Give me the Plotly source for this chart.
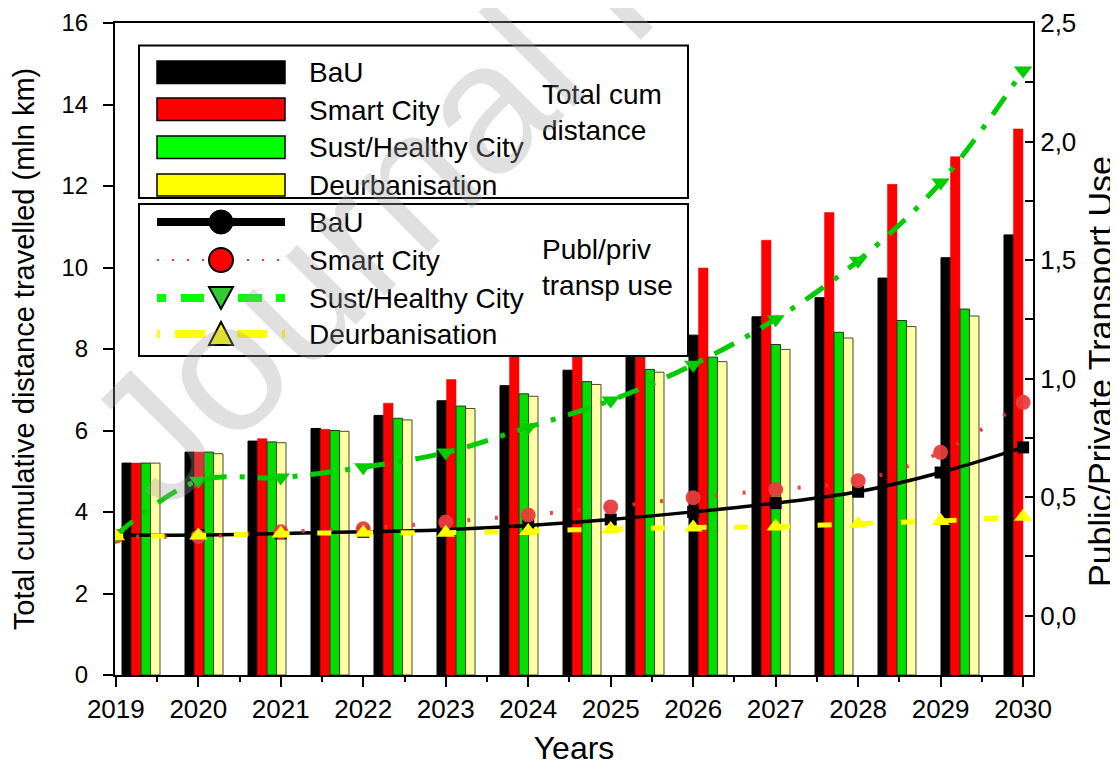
import plotly.graph_objects as go

# ---------------- data ----------------
bar_slots = list(range(15))
bau_dist = [5.20, 5.47, 5.74, 6.05, 6.37, 6.73, 7.10, 7.48, 7.90, 8.34, 8.79, 9.26, 9.74, 10.24, 10.80]
smart_dist = [5.20, 5.47, 5.80, 6.03, 6.67, 7.25, 7.92, 8.61, 9.30, 9.99, 10.67, 11.35, 12.04, 12.72, 13.40]
sust_dist = [5.20, 5.47, 5.72, 6.00, 6.30, 6.60, 6.90, 7.20, 7.50, 7.80, 8.11, 8.41, 8.70, 8.98, None]
deurb_dist = [5.20, 5.43, 5.70, 5.98, 6.26, 6.54, 6.84, 7.13, 7.43, 7.69, 7.99, 8.27, 8.55, 8.81, None]

years = list(range(2019, 2031))
bau_use = [0.340, 0.340, 0.347, 0.354, 0.363, 0.381, 0.406, 0.438, 0.475, 0.523, 0.604, 0.710]
smart_use = [0.335, 0.334, 0.354, 0.367, 0.395, 0.425, 0.459, 0.498, 0.532, 0.569, 0.689, 0.900]
sust_use = [0.340, 0.569, 0.583, 0.626, 0.688, 0.795, 0.908, 1.059, 1.251, 1.497, 1.827, 2.300]
deurb_use = [0.335, 0.338, 0.347, 0.350, 0.350, 0.357, 0.366, 0.372, 0.376, 0.388, 0.400, 0.417]

scenario_names = ["BaU", "Smart City", "Sust/Healthy City", "Deurbanisation"]
left_title = "Total cumulative distance travelled (mln km)"
right_title = "Public/Private Transport Use"
x_title = "Years"
box_notes = ["Total cum<br>distance", "Publ/priv<br>transp use"]

FONT = "Liberation Sans, Arial, sans-serif"

# page body has an 8px margin; figure is offset by that amount
OFF = 8
W, H = 1118 - OFF, 766 - OFF
# plot-area frame in viewport pixels
PL, PR, PT, PB = 115, 1033, 23, 675
def X(px):
    return (px - PL) / (PR - PL)
def Y(py):
    return (PB - py) / (PB - PT)

fig = go.Figure()

bar_styles = [
    dict(color="#000000", line=dict(color="#000000", width=1)),
    dict(color="#FF0000", line=dict(color="#FF0000", width=0.5)),
    dict(color="#00DD00", line=dict(color="#1a3a1a", width=1)),
    dict(color="#FFFFA6", line=dict(color="#4a4a2a", width=1)),
]
for name, vals, st in zip(scenario_names, [bau_dist, smart_dist, sust_dist, deurb_dist], bar_styles):
    fig.add_trace(go.Bar(x=bar_slots, y=vals, name=name, marker=st,
                         xaxis="x", yaxis="y", showlegend=False))

# lines on year axis / right axis
fig.add_trace(go.Scatter(x=years, y=bau_use, mode="lines+markers", name="BaU",
                         line=dict(color="black", width=3.5, shape="spline"),
                         marker=dict(symbol="square", size=12, color="black"),
                         xaxis="x2", yaxis="y2", showlegend=False))
fig.add_trace(go.Scatter(x=years, y=smart_use, mode="lines+markers", name="Smart City",
                         line=dict(color="rgba(235,50,50,0.9)", width=4, shape="spline",
                                   dash="0px,20px,3px,24.7px,3px,24.7px,3px,4.6px"),
                         marker=dict(symbol="circle", size=15, color="rgba(232,60,60,0.95)"),
                         xaxis="x2", yaxis="y2", showlegend=False))
fig.add_trace(go.Scatter(x=years, y=sust_use, mode="lines+markers", name="Sust/Healthy City",
                         line=dict(color="#00CC00", width=5, shape="spline",
                                   dash="22px,13px,5px,13px"),
                         marker=dict(symbol="triangle-down", size=16, color="#00CC00"),
                         xaxis="x2", yaxis="y2", showlegend=False))
fig.add_trace(go.Scatter(x=years, y=deurb_use, mode="lines+markers", name="Deurbanisation",
                         line=dict(color="#FFFF00", width=5, shape="spline",
                                   dash="7px,27.7px,7px,0px"),
                         marker=dict(symbol="triangle-up", size=16, color="#FFFF00"),
                         xaxis="x2", yaxis="y2", showlegend=False))

# ---------------- legend (drawn) ----------------
shapes = []
shapes.append(dict(type="rect", xref="paper", yref="paper", x0=X(139), x1=X(688), y0=Y(198), y1=Y(45.5),
                   line=dict(color="black", width=2), fillcolor="white", layer="above"))
shapes.append(dict(type="rect", xref="paper", yref="paper", x0=X(139), x1=X(688), y0=Y(356), y1=Y(204),
                   line=dict(color="black", width=2), fillcolor="white", layer="above"))
bar_fill = ["#000000", "#FF0000", "#00FF00", "#FFFF00"]
bar_rows = [(61, 83.5), (98, 120.5), (136, 158.5), (174, 196)]
for (ya, yb), col in zip(bar_rows, bar_fill):
    shapes.append(dict(type="rect", xref="paper", yref="paper", x0=X(157), x1=X(285), y0=Y(yb), y1=Y(ya),
                       line=dict(color="black", width=1.5), fillcolor=col, layer="above"))

line_rows = [222, 260, 298, 334]
# BaU
shapes.append(dict(type="line", xref="paper", yref="paper", x0=X(157), x1=X(285), y0=Y(222), y1=Y(222),
                   line=dict(color="black", width=8), layer="above"))
shapes.append(dict(type="circle", xref="paper", yref="paper", x0=X(209), x1=X(233), y0=Y(234), y1=Y(210),
                   line=dict(color="black", width=1), fillcolor="black", layer="above"))
# Smart City
shapes.append(dict(type="line", xref="paper", yref="paper", x0=X(157), x1=X(285), y0=Y(260), y1=Y(260),
                   line=dict(color="#FF3030", width=2, dash="2px,13px"), layer="above"))
shapes.append(dict(type="circle", xref="paper", yref="paper", x0=X(209), x1=X(233), y0=Y(272), y1=Y(248),
                   line=dict(color="black", width=2), fillcolor="#FF0000", layer="above"))
# Sust/Healthy
for a, b in [(157, 166), (181, 204), (238, 262), (276, 285)]:
    shapes.append(dict(type="line", xref="paper", yref="paper", x0=X(a), x1=X(b), y0=Y(298), y1=Y(298),
                       line=dict(color="#00FF00", width=8), layer="above"))
shapes.append(dict(type="path", xref="paper", yref="paper",
                   path=f"M {X(209)} {Y(287)} L {X(233)} {Y(287)} L {X(221)} {Y(309)} Z",
                   line=dict(color="black", width=2), fillcolor="#33CC33", layer="above"))
# Deurbanisation
for a, b in [(157, 160), (175, 205), (237, 267), (282, 285)]:
    shapes.append(dict(type="line", xref="paper", yref="paper", x0=X(a), x1=X(b), y0=Y(334), y1=Y(334),
                       line=dict(color="#FFFF00", width=8), layer="above"))
shapes.append(dict(type="path", xref="paper", yref="paper",
                   path=f"M {X(209)} {Y(345)} L {X(233)} {Y(345)} L {X(221)} {Y(322)} Z",
                   line=dict(color="black", width=2), fillcolor="#FFFF00", layer="above"))

legend_font = dict(family=FONT, size=28, color="black")
annotations = []
for yc, name in zip([72, 110, 147, 185], scenario_names):
    annotations.append(dict(x=X(307), y=Y(yc), xref="paper", yref="paper", text=name, showarrow=False,
                            xanchor="left", yanchor="middle", font=legend_font))
for yc, name in zip(line_rows, scenario_names):
    annotations.append(dict(x=X(307), y=Y(yc), xref="paper", yref="paper", text=name, showarrow=False,
                            xanchor="left", yanchor="middle", font=legend_font))
for yc, note in zip([113, 267.5], box_notes):
    annotations.append(dict(x=X(540), y=Y(yc), xref="paper", yref="paper", text=note, showarrow=False,
                            xanchor="left", yanchor="middle", align="left", font=legend_font))
# right axis title (placed as rotated text)
annotations.append(dict(x=X(1100), y=Y(372), xref="paper", yref="paper", text=right_title,
                        showarrow=False, xanchor="center", yanchor="middle", textangle=-90,
                        font=dict(family=FONT, size=34, color="black")))
# watermark
annotations.append(dict(x=X(625), y=Y(-35), xref="paper", yref="paper", text="Journal Pre-proof",
                        showarrow=False, xanchor="center", yanchor="middle", textangle=-45,
                        font=dict(family=FONT, size=185, color="rgba(160,160,160,0.32)")))

left_tick_font = dict(family=FONT, size=24, color="black")
tick_font = dict(family=FONT, size=26, color="black")

fig.update_layout(
    width=W, height=H,
    margin=dict(l=PL - OFF, r=W - (PR - OFF), t=PT - OFF, b=H - (PB - OFF), autoexpand=False),
    paper_bgcolor="white", plot_bgcolor="white",
    separators=",.",
    barmode="group", bargap=0.397, bargroupgap=0,
    showlegend=False,
    font=dict(family=FONT, color="black"),
    xaxis=dict(visible=False, range=[-0.413, 14.159], domain=[0, 1]),
    yaxis=dict(range=[0, 16], dtick=2, tick0=0, showgrid=False, zeroline=False,
               showline=True, linecolor="black", linewidth=2,
               ticks="outside", ticklen=10, tickwidth=2, tickcolor="black",
               ticklabelstandoff=10, tickfont=left_tick_font,
               title=dict(text=left_title, font=dict(family=FONT, size=29, color="black"), standoff=20)),
    xaxis2=dict(overlaying="x", anchor="y2", side="bottom", range=[2018.99, 2030.12],
                tickmode="linear", tick0=2019, dtick=1, showgrid=False, zeroline=False,
                showline=True, linecolor="black", linewidth=2, mirror=True,
                ticks="outside", ticklen=10, tickwidth=2, tickcolor="black",
                minor=dict(dtick=0.5, tick0=2019, ticks="outside", ticklen=5, tickwidth=2,
                           tickcolor="black", showgrid=False),
                tickfont=tick_font,
                title=dict(text=x_title, font=dict(family=FONT, size=32, color="black"), standoff=18)),
    yaxis2=dict(overlaying="y", anchor="x2", side="right", range=[-0.25, 2.5],
                tick0=0, dtick=0.5, tickformat=".1f", showgrid=False, zeroline=False,
                showline=True, linecolor="black", linewidth=2,
                ticks="inside", ticklen=8, tickwidth=2, tickcolor="black",
                minor=dict(dtick=0.25, ticks="inside", ticklen=8, tickwidth=2,
                           tickcolor="black", showgrid=False),
                tickfont=tick_font),
    shapes=shapes,
    annotations=annotations,
)

fig.write_html("out.html")
